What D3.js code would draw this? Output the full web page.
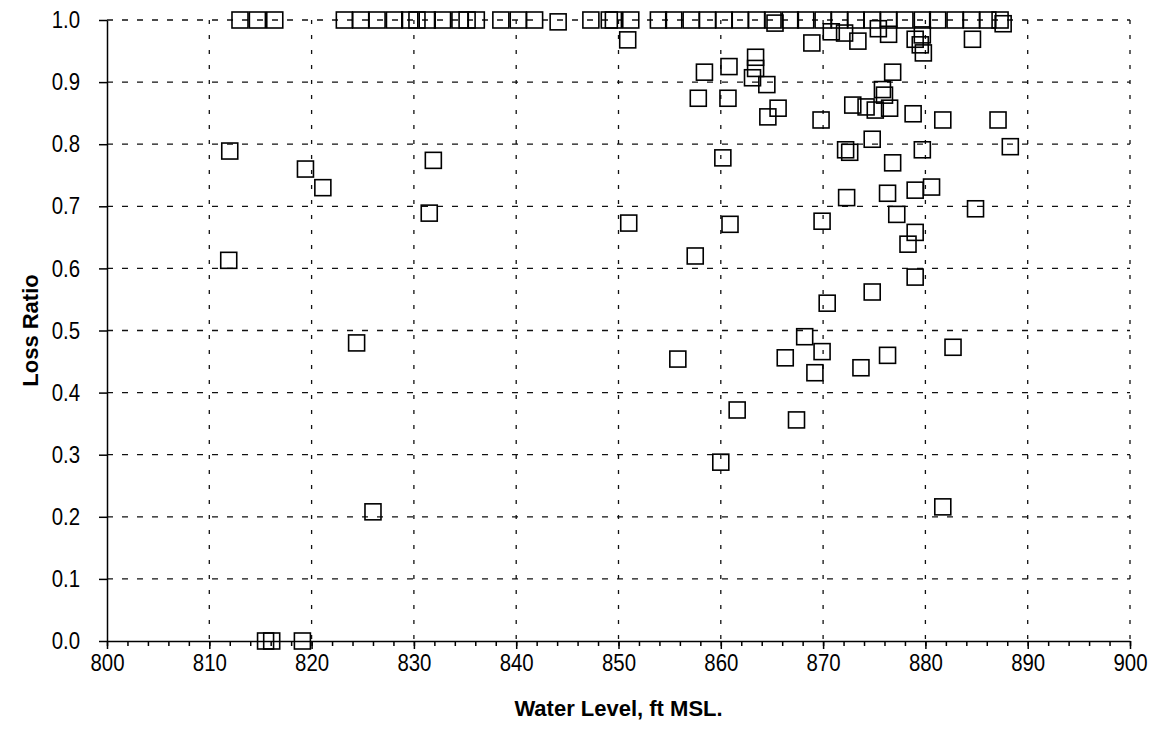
<!DOCTYPE html>
<html>
<head>
<meta charset="utf-8">
<script src="https://cdn.jsdelivr.net/npm/d3@7"></script>
<style>
  body { margin: 0; background: #fff; }
  .tick text { font-family: "Liberation Sans", Arial, sans-serif; font-size: 24px; fill: #000; }
  .title { font-family: "Liberation Sans", Arial, sans-serif; font-weight: bold; fill: #000; }
</style>
</head>
<body>
<div id="chart"></div>
<script>
// points sitting on 1.0
var topLevels = [813.0, 814.7, 816.4, 823.2, 824.8, 826.4, 828.1, 829.6, 830.3, 831.3, 832.8, 834.5, 835.2, 836.1,
  838.5, 840.2, 841.8, 847.3, 849.1, 849.5, 851.2, 853.9, 855.4, 857.1, 858.7, 860.3, 861.9, 863.5, 865.1,
  866.8, 868.3, 870.0, 871.6, 873.2, 874.8, 876.4, 878.0, 879.7, 881.2, 882.9, 884.5, 886.1, 887.3]

// the rest of the points
var waterLevel = [812.0, 811.9, 819.4, 821.1, 824.4, 826.0, 831.9, 831.5, 815.5, 816.1, 819.1,
  844.1, 850.9, 851.0, 855.8, 857.5, 857.8, 858.4, 860.0, 860.2, 860.7, 860.8, 860.9, 861.6,
  863.1, 863.4, 863.4, 864.5, 864.6, 865.6, 865.3, 866.3, 867.4, 868.2, 868.9, 869.2, 869.8, 869.9,
  869.9, 870.4, 870.8, 872.1, 872.2, 872.6, 872.3, 872.9, 873.4, 873.7, 874.2, 874.8, 874.8,
  875.1, 875.4, 875.8, 876.0, 876.4, 876.3, 876.3, 876.5, 876.8, 876.8, 877.2, 878.3, 878.8,
  879.0, 879.0, 879.0, 879.0, 879.5, 879.7, 879.7, 879.8, 880.6, 881.7, 881.7, 882.7, 884.6,
  884.9, 887.1, 887.6, 888.3]
var lossRatio = [0.789, 0.613, 0.760, 0.730, 0.480, 0.208, 0.774, 0.689, 0.0, 0.0, 0.0,
  0.997, 0.968, 0.673, 0.454, 0.620, 0.874, 0.916, 0.288, 0.778, 0.874, 0.925, 0.671, 0.372,
  0.907, 0.940, 0.922, 0.896, 0.844, 0.858, 0.995, 0.456, 0.356, 0.490, 0.963, 0.432, 0.839, 0.676,
  0.466, 0.544, 0.981, 0.979, 0.791, 0.787, 0.714, 0.863, 0.966, 0.440, 0.860, 0.808, 0.562,
  0.855, 0.986, 0.888, 0.879, 0.977, 0.721, 0.460, 0.858, 0.916, 0.770, 0.687, 0.639, 0.849,
  0.969, 0.726, 0.658, 0.586, 0.960, 0.976, 0.791, 0.947, 0.731, 0.839, 0.216, 0.473, 0.969,
  0.696, 0.839, 0.994, 0.796]

var xTicks = [800, 810, 820, 830, 840, 850, 860, 870, 880, 890, 900]
var yTicks = [0.0, 0.1, 0.2, 0.3, 0.4, 0.5, 0.6, 0.7, 0.8, 0.9, 1.0]

var data = []
topLevels.forEach(function(v) { data.push({ level: v, ratio: 1.0 }) })
waterLevel.forEach(function(v, i) { data.push({ level: v, ratio: lossRatio[i] }) })

var W = 1152, H = 751
var margin = {top: 20, right: 22, bottom: 110, left: 107}
var width = W - margin.left - margin.right,
    height = H - margin.top - margin.bottom
var squeeze = 0.85  // the labels in the scan are a narrow face

var svg = d3.select("#chart")
  .append("svg")
  .attr("width", W)
  .attr("height", H)
  .append("g")
  .attr("transform", "translate(" + margin.left + "," + margin.top + ")")

var x = d3.scaleLinear().domain([800, 900]).range([0, width])
var y = d3.scaleLinear().domain([0, 1]).range([height, 0])

// grid
svg.append("g").selectAll("line")
  .data(yTicks.slice(1))
  .enter().append("line")
  .attr("x1", 0).attr("x2", width)
  .attr("y1", function(d) { return y(d) }).attr("y2", function(d) { return y(d) })
  .attr("stroke", "#111").attr("stroke-width", 1.3).attr("stroke-dasharray", "6,9")

svg.append("g").selectAll("line")
  .data(xTicks.slice(1))
  .enter().append("line")
  .attr("y1", 0).attr("y2", height)
  .attr("x1", function(d) { return x(d) }).attr("x2", function(d) { return x(d) })
  .attr("stroke", "#111").attr("stroke-width", 1.3).attr("stroke-dasharray", "4,11")

// minor x ticks
svg.append("g")
  .attr("transform", "translate(0," + height + ")")
  .call(d3.axisBottom(x).tickValues(d3.range(800, 901, 2)).tickSize(5).tickFormat(""))
  .call(function(g) { g.select(".domain").remove() })

// x axis
svg.append("g")
  .attr("transform", "translate(0," + height + ")")
  .call(d3.axisBottom(x).tickValues(xTicks).tickSize(8).tickPadding(5).tickSizeOuter(0).tickFormat(d3.format("d")))
  .selectAll(".tick text")
  .attr("transform", "scale(" + squeeze + ",1)")

// y axis
var yAxis = svg.append("g")
  .call(d3.axisLeft(y).tickValues(yTicks).tickSize(8).tickPadding(19).tickSizeOuter(0).tickFormat(d3.format(".1f")))
yAxis.selectAll(".tick text")
  .attr("x", -27 / squeeze)
  .attr("transform", "scale(" + squeeze + ",1)")

svg.selectAll(".domain, .tick line").attr("stroke", "#000").attr("stroke-width", 1.5)

// squares
var s = 16
svg.append("g").selectAll("rect")
  .data(data)
  .enter().append("rect")
  .attr("x", function(d) { return x(d.level) - s / 2 })
  .attr("y", function(d) { return y(d.ratio) - s / 2 })
  .attr("width", s).attr("height", s)
  .attr("fill", "none").attr("stroke", "#000").attr("stroke-width", 1.6)

// axis titles
svg.append("text").attr("class", "title")
  .attr("x", width / 2).attr("y", height + 75)
  .attr("text-anchor", "middle").style("font-size", "22px")
  .text("Water Level, ft MSL.")

svg.append("text").attr("class", "title")
  .attr("transform", "translate(" + (-69) + "," + (height / 2) + ") rotate(-90)")
  .attr("text-anchor", "middle").style("font-size", "22px")
  .text("Loss Ratio")
</script>
</body>
</html>
